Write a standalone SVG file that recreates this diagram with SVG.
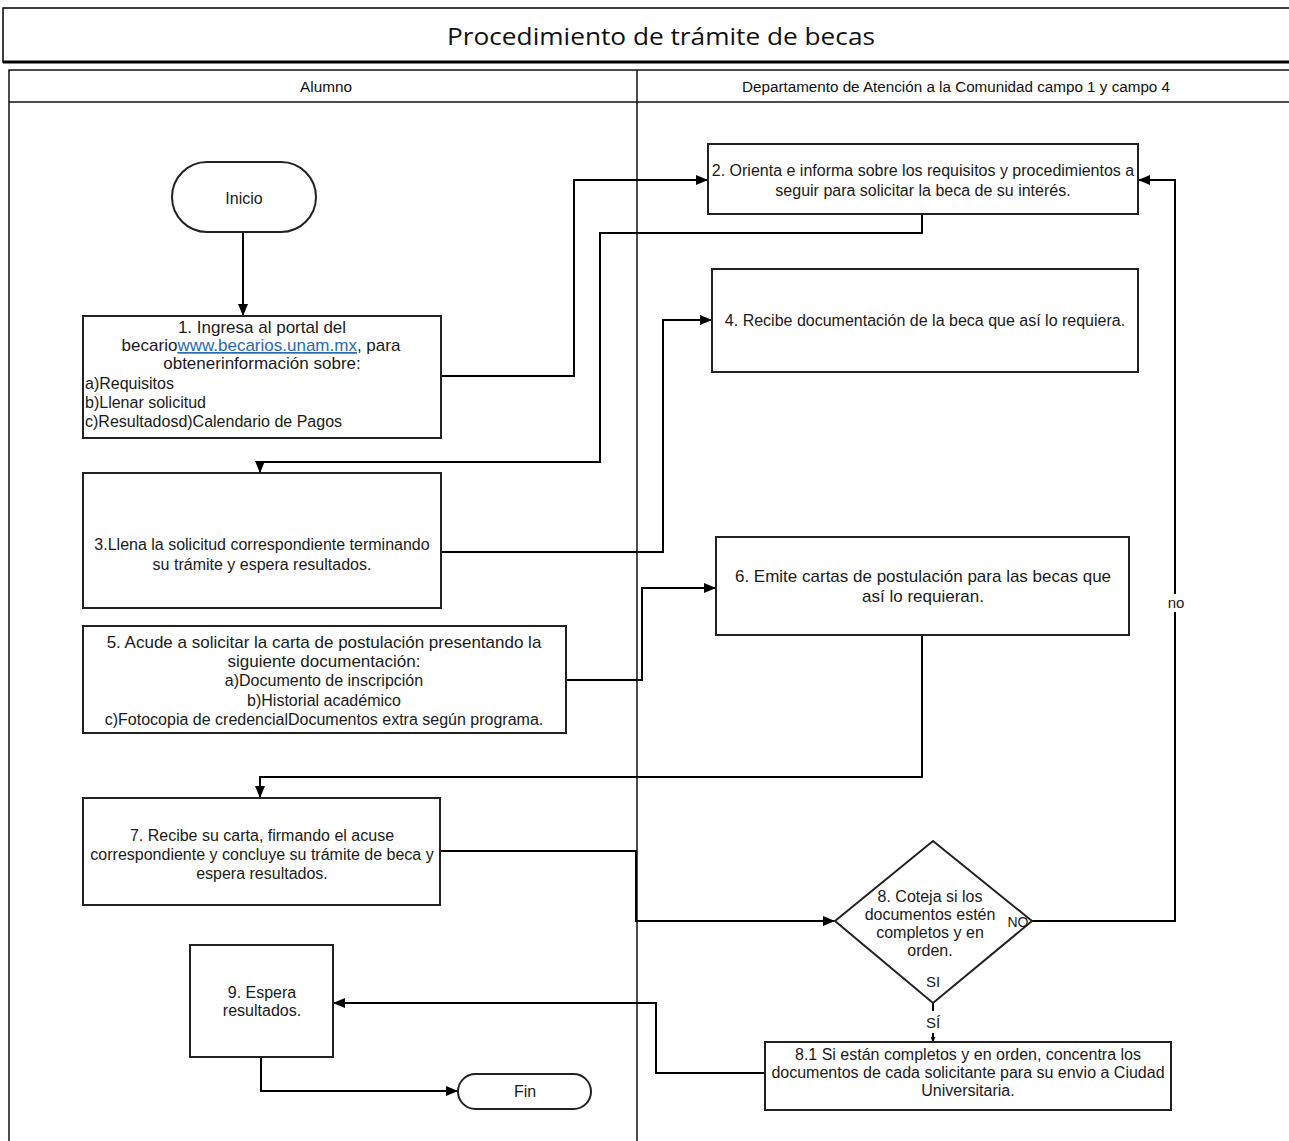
<svg xmlns="http://www.w3.org/2000/svg" width="1289" height="1141" viewBox="0 0 1289 1141">
  <style>
    .box { fill: #ffffff; stroke: #222222; stroke-width: 2; }
    .lane { fill: none; stroke: #111111; stroke-width: 1.5; }
    .conn { fill: none; stroke: #000000; stroke-width: 2; }
    .t { font-family: "Liberation Sans", Arial, sans-serif; fill: #1a1a1a; text-anchor: middle; }
    .s17 { font-size: 17px; }
    .s16 { font-size: 16px; }
    .s15 { font-size: 15px; }
    .s14 { font-size: 14px; }
    .left { text-anchor: start; }
    .hdr { font-family: "Liberation Sans", Arial, sans-serif; font-size: 14px; fill: #111111; text-anchor: middle; }
    .link { fill: #2a6ab0; text-decoration: underline; }
  </style>
  <defs>
    <marker id="arrow" viewBox="0 0 12 10" refX="12" refY="5" markerWidth="13" markerHeight="10" markerUnits="userSpaceOnUse" orient="auto">
      <path d="M0,0 L12,5 L0,10 Z" fill="#000000"/>
    </marker>
    <marker id="arrowSmall" viewBox="0 0 6 6" refX="6" refY="3" markerWidth="5" markerHeight="5" markerUnits="userSpaceOnUse" orient="auto">
      <path d="M0,0 L6,3 L0,6 Z" fill="#000000"/>
    </marker>
  </defs>

  <rect width="1289" height="1141" fill="#ffffff"/>

  <!-- Title bar -->
  <g id="title">
    <rect x="3" y="8" width="1290" height="54" fill="#ffffff" stroke="#000000" stroke-width="1.5"/>
    <line x1="3" y1="62" x2="1289" y2="62" stroke="#000000" stroke-width="3"/>
    <text x="661" y="45" font-family="'Open Sans', 'Liberation Sans', sans-serif" font-size="23" fill="#111111" text-anchor="middle" textLength="428" lengthAdjust="spacingAndGlyphs">Procedimiento de trámite de becas</text>
  </g>

  <!-- Swimlanes -->
  <g id="lanes">
    <rect class="lane" x="9" y="70" width="1290" height="1080"/>
    <line class="lane" x1="9" y1="102" x2="1289" y2="102"/>
    <line class="lane" x1="637" y1="70" x2="637" y2="1141"/>
    <text class="hdr" x="326" y="92" textLength="52" lengthAdjust="spacingAndGlyphs">Alumno</text>
    <text class="hdr" x="956" y="92" textLength="428" lengthAdjust="spacingAndGlyphs">Departamento de Atención a la Comunidad campo 1 y campo 4</text>
  </g>

  <!-- Connectors -->
  <g id="connectors">
    <path class="conn" d="M243,232 V316" marker-end="url(#arrow)"/>
    <path class="conn" d="M441,376 H574 V180 H708" marker-end="url(#arrow)"/>
    <path class="conn" d="M922,214 V233 H600 V462 H260 V473" marker-end="url(#arrow)"/>
    <path class="conn" d="M441,552 H663 V320 H712" marker-end="url(#arrow)"/>
    <path class="conn" d="M566,680 H642 V588 H716" marker-end="url(#arrow)"/>
    <path class="conn" d="M922,635 V777 H260 V798" marker-end="url(#arrow)"/>
    <path class="conn" d="M440,851 H636 V921 H835" marker-end="url(#arrow)"/>
    <path class="conn" d="M1032,921 H1175 V180 H1138" marker-end="url(#arrow)"/>
    <rect x="1163" y="594" width="26" height="18" fill="#ffffff"/>
    <text class="t s15" x="1176" y="608">no</text>
    <path class="conn" d="M933,1003 V1011" stroke-width="1"/>
    <path class="conn" d="M933,1033 V1042" stroke-width="1" marker-end="url(#arrowSmall)"/>
    <text class="t s15" x="933" y="1028">SÍ</text>
    <path class="conn" d="M765,1073 H656 V1003 H333" stroke-width="1.5" marker-end="url(#arrow)"/>
    <path class="conn" d="M261,1057 V1091 H458" stroke-width="1.5" marker-end="url(#arrow)"/>
  </g>

  <!-- Start -->
  <g id="inicio">
    <rect class="box" x="172" y="162" width="144" height="70" rx="35" ry="35"/>
    <text class="t s16" x="244" y="204">Inicio</text>
  </g>

  <!-- Step 1 -->
  <g id="paso1">
    <rect class="box" x="83" y="316" width="358" height="122"/>
    <text class="t s17" x="262" y="333">1. Ingresa al portal del</text>
    <text class="t s17" x="261" y="351">becario<tspan class="link">www.becarios.unam.mx</tspan>, para</text>
    <text class="t s17" x="262" y="369">obtenerinformación sobre:</text>
    <text class="t s16 left" x="85" y="389">a)Requisitos</text>
    <text class="t s16 left" x="85" y="408">b)Llenar solicitud</text>
    <text class="t s16 left" x="85" y="427">c)Resultadosd)Calendario de Pagos</text>
  </g>

  <!-- Step 2 -->
  <g id="paso2">
    <rect class="box" x="708" y="144" width="430" height="70"/>
    <text class="t s16" x="923" y="176">2. Orienta e informa sobre los requisitos y procedimientos a</text>
    <text class="t s16" x="923" y="196">seguir para solicitar la beca de su interés.</text>
  </g>

  <!-- Step 3 -->
  <g id="paso3">
    <rect class="box" x="83" y="473" width="358" height="135"/>
    <text class="t s16" x="262" y="550">3.Llena la solicitud correspondiente terminando</text>
    <text class="t s16" x="262" y="570">su trámite y espera resultados.</text>
  </g>

  <!-- Step 4 -->
  <g id="paso4">
    <rect class="box" x="712" y="269" width="426" height="103"/>
    <text class="t s16" x="925" y="326">4. Recibe documentación de la beca que así lo requiera.</text>
  </g>

  <!-- Step 5 -->
  <g id="paso5">
    <rect class="box" x="83" y="626" width="483" height="107"/>
    <text class="t s17" x="324" y="648">5. Acude a solicitar la carta de postulación presentando la</text>
    <text class="t s17" x="324" y="667">siguiente documentación:</text>
    <text class="t s16" x="324" y="686">a)Documento de inscripción</text>
    <text class="t s16" x="324" y="706">b)Historial académico</text>
    <text class="t s16" x="324" y="725">c)Fotocopia de credencialDocumentos extra según programa.</text>
  </g>

  <!-- Step 6 -->
  <g id="paso6">
    <rect class="box" x="716" y="537" width="413" height="98"/>
    <text class="t s17" x="923" y="582">6. Emite cartas de postulación para las becas que</text>
    <text class="t s17" x="923" y="602">así lo requieran.</text>
  </g>

  <!-- Step 7 -->
  <g id="paso7">
    <rect class="box" x="83" y="798" width="357" height="107"/>
    <text class="t s16" x="262" y="841">7. Recibe su carta, firmando el acuse</text>
    <text class="t s16" x="262" y="860">correspondiente y concluye su trámite de beca y</text>
    <text class="t s16" x="262" y="879">espera resultados.</text>
  </g>

  <!-- Decision 8 -->
  <g id="paso8">
    <polygon class="box" points="933,841 1032,921 933,1003 835,921"/>
    <text class="t s16" x="930" y="902">8. Coteja si los</text>
    <text class="t s16" x="930" y="920">documentos estén</text>
    <text class="t s16" x="930" y="938">completos y en</text>
    <text class="t s16" x="930" y="956">orden.</text>
    <text class="t s14" x="1018" y="927">NO</text>
    <text class="t s15" x="933" y="987">SI</text>
  </g>

  <!-- Step 8.1 -->
  <g id="paso8_1">
    <rect class="box" x="765" y="1042" width="406" height="68"/>
    <text class="t s16" x="968" y="1060">8.1 Si están completos y en orden, concentra los</text>
    <text class="t s16" x="968" y="1078">documentos de cada solicitante para su envio a Ciudad</text>
    <text class="t s16" x="968" y="1096">Universitaria.</text>
  </g>

  <!-- Step 9 -->
  <g id="paso9">
    <rect class="box" x="190" y="945" width="143" height="112"/>
    <text class="t s16" x="262" y="998">9. Espera</text>
    <text class="t s16" x="262" y="1016">resultados.</text>
  </g>

  <!-- End -->
  <g id="fin">
    <rect class="box" x="458" y="1074" width="133" height="35" rx="17.5" ry="17.5"/>
    <text class="t s16" x="525" y="1097">Fin</text>
  </g>
</svg>
